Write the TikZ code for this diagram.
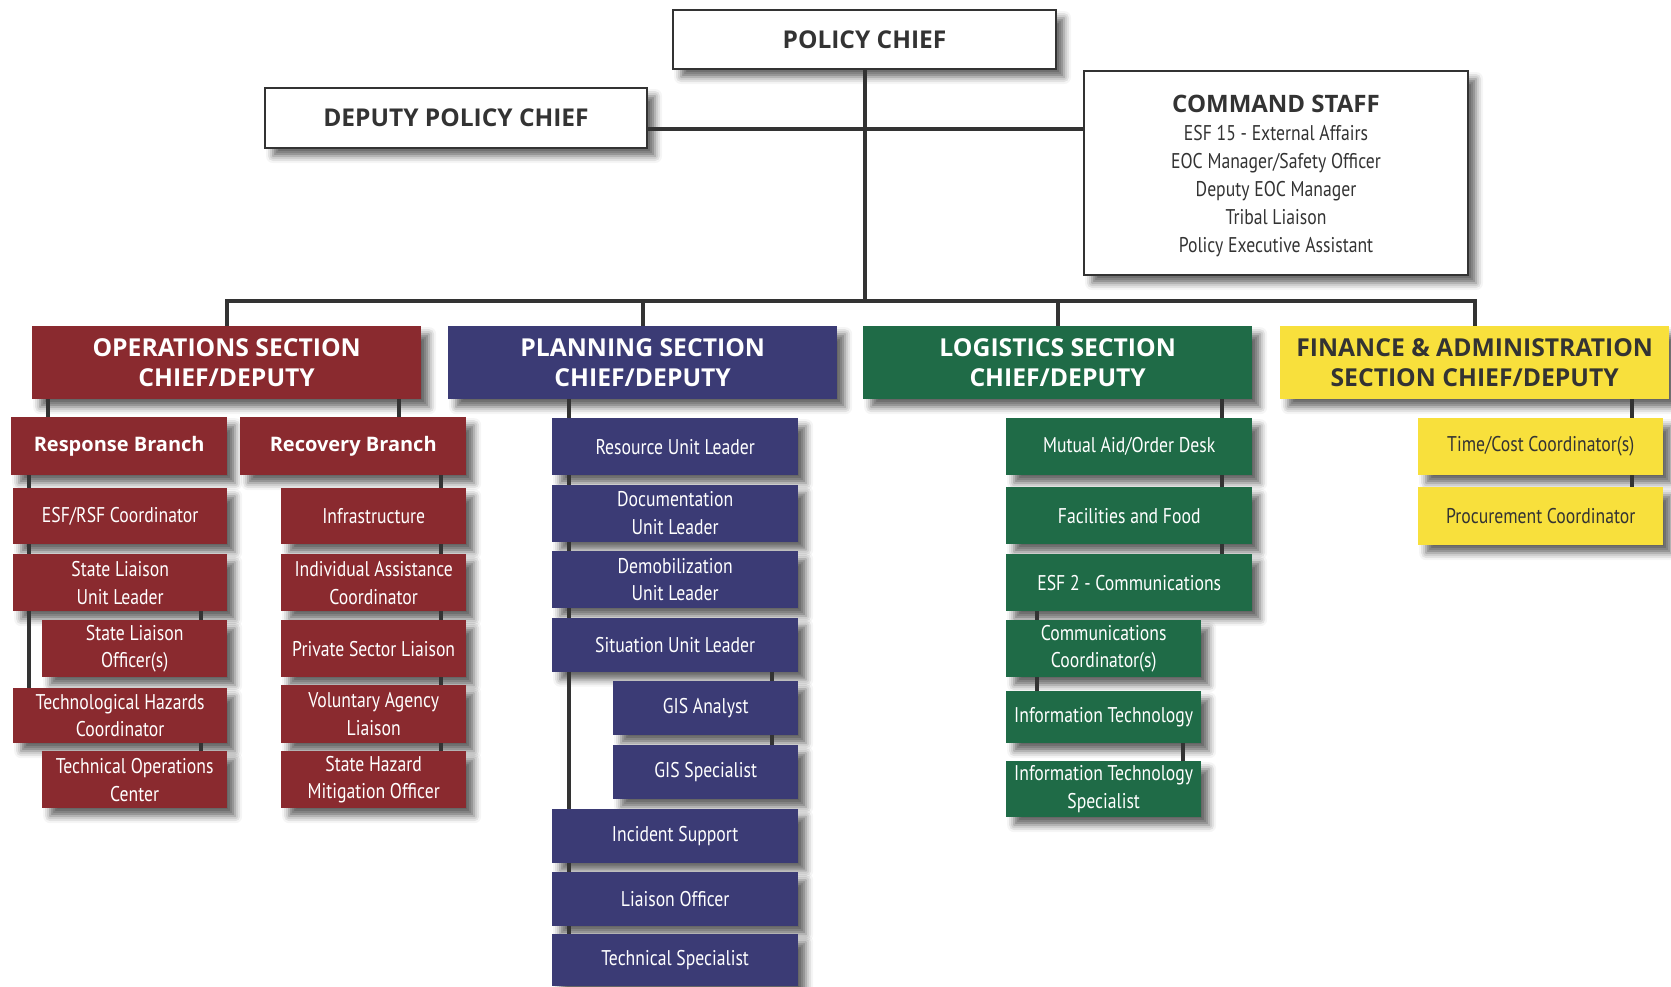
\documentclass[tikz,border=0pt]{standalone}
\usepackage{fontspec}
\setmainfont{PT Sans}
\newfontfamily\condf[FakeStretch=0.83]{PT Sans}
\newfontfamily\headf{Open Sans}
\usetikzlibrary{shadows.blur}
\definecolor{opsred}{HTML}{8A2A2F}
\definecolor{plannavy}{HTML}{3B3B75}
\definecolor{loggreen}{HTML}{1F6B47}
\definecolor{finyellow}{HTML}{F8E03C}
\definecolor{ink}{HTML}{333333}
\tikzset{
  base/.style={rectangle, anchor=north west, inner sep=0pt, align=center,
    blur shadow={shadow xshift=8pt, shadow yshift=-8pt, shadow blur radius=7pt, shadow opacity=60}},
  topbox/.style={base, fill=white, draw=ink, line width=2pt, text=ink,
    font=\headf\bfseries\fontsize{24.5}{30}\selectfont},
  csbox/.style={base, fill=white, draw=ink, line width=2pt, text=ink,
    font=\condf\fontsize{21.3}{28}\selectfont},
  secbox/.style={base, text=white, font=\headf\bfseries\fontsize{24.7}{30.5}\selectfont},
  branchbox/.style={base, text=white, font=\headf\bfseries\fontsize{20}{26}\selectfont},
  unitbox/.style={base, text=white, font=\condf\fontsize{21.3}{27.7}\selectfont},
  ops/.style={fill=opsred},
  plan/.style={fill=plannavy},
  logi/.style={fill=loggreen},
  fin/.style={fill=finyellow, text=ink},
  conn/.style={draw=ink, line width=4pt},
}
\begin{document}
\begin{tikzpicture}[x=1pt,y=-1pt]
\useasboundingbox (0,0) rectangle (1671,986);
% top level
\node[topbox, minimum width=383, minimum height=59] (pc) at (672,9) {POLICY CHIEF};
\node[topbox, minimum width=382, minimum height=60] (dpc) at (264,87) {DEPUTY POLICY CHIEF};
\node[csbox, minimum width=384, minimum height=204] (cs) at (1083,70)
  {\rule{0pt}{24pt}{\headf\bfseries\fontsize{24}{30}\selectfont COMMAND STAFF}\\
   ESF 15 - External Affairs\\ EOC Manager/Safety Officer\\ Deputy EOC Manager\\
   Tribal Liaison\\ Policy Executive Assistant};
% sections
\node[secbox, ops, minimum width=389, minimum height=73] (opsec) at (32,326) {OPERATIONS SECTION\\CHIEF/DEPUTY};
\node[secbox, plan, minimum width=389, minimum height=73] (plsec) at (448,326) {PLANNING SECTION\\CHIEF/DEPUTY};
\node[secbox, logi, minimum width=389, minimum height=73] (lgsec) at (863,326) {LOGISTICS SECTION\\CHIEF/DEPUTY};
\node[secbox, fin, minimum width=389, minimum height=73] (fnsec) at (1280,326) {FINANCE \& ADMINISTRATION\\SECTION CHIEF/DEPUTY};
% operations
\node[branchbox, ops, minimum width=216, minimum height=58] (resp) at (11,417) {Response Branch};
\node[branchbox, ops, minimum width=226, minimum height=58] (rec) at (240,417) {Recovery Branch};
\node[unitbox, ops, minimum width=214, minimum height=56] (esf) at (13,488) {ESF/RSF Coordinator};
\node[unitbox, ops, minimum width=214, minimum height=57] (slul) at (13,554) {State Liaison\\Unit Leader};
\node[unitbox, ops, minimum width=185, minimum height=57] (slo) at (42,620) {State Liaison\\Officer(s)};
\node[unitbox, ops, minimum width=214, minimum height=55] (thc) at (13,688) {Technological Hazards\\Coordinator};
\node[unitbox, ops, minimum width=185, minimum height=57] (toc) at (42,751) {Technical Operations\\Center};
\node[unitbox, ops, minimum width=185, minimum height=56] (infra) at (281,488) {Infrastructure};
\node[unitbox, ops, minimum width=185, minimum height=57] (iac) at (281,554) {Individual Assistance\\Coordinator};
\node[unitbox, ops, minimum width=185, minimum height=57] (psl) at (281,620) {Private Sector Liaison};
\node[unitbox, ops, minimum width=185, minimum height=58] (val) at (281,685) {Voluntary Agency\\Liaison};
\node[unitbox, ops, minimum width=185, minimum height=57] (shmo) at (281,751) {State Hazard\\Mitigation Officer};
% planning
\node[unitbox, plan, minimum width=246, minimum height=57] (rul) at (552,418) {Resource Unit Leader};
\node[unitbox, plan, minimum width=246, minimum height=57] (dul) at (552,484.5) {Documentation\\Unit Leader};
\node[unitbox, plan, minimum width=246, minimum height=57] (dmul) at (552,551) {Demobilization\\Unit Leader};
\node[unitbox, plan, minimum width=246, minimum height=54] (sul) at (552,617.5) {Situation Unit Leader};
\node[unitbox, plan, minimum width=185, minimum height=54] (gisa) at (613,681) {GIS Analyst};
\node[unitbox, plan, minimum width=185, minimum height=54] (giss) at (613,745) {GIS Specialist};
\node[unitbox, plan, minimum width=246, minimum height=54] (inc) at (552,808.5) {Incident Support};
\node[unitbox, plan, minimum width=246, minimum height=54] (lo) at (552,872) {Liaison Officer};
\node[unitbox, plan, minimum width=246, minimum height=52] (ts) at (552,934) {Technical Specialist};
% logistics
\node[unitbox, logi, minimum width=246, minimum height=57] (mad) at (1006,418) {Mutual Aid/Order Desk};
\node[unitbox, logi, minimum width=246, minimum height=57] (ff) at (1006,487) {Facilities and Food};
\node[unitbox, logi, minimum width=246, minimum height=57] (esf2) at (1006,554) {ESF 2 - Communications};
\node[unitbox, logi, minimum width=195, minimum height=57] (cc) at (1006,620) {Communications\\Coordinator(s)};
\node[unitbox, logi, minimum width=195, minimum height=52] (it) at (1006,691) {Information Technology};
\node[unitbox, logi, minimum width=195, minimum height=56] (its) at (1006,761) {Information Technology\\Specialist};
% finance
\node[unitbox, fin, minimum width=245, minimum height=57] (tc) at (1418,418) {Time/Cost Coordinator(s)};
\node[unitbox, fin, minimum width=245, minimum height=58] (pr) at (1418,487) {Procurement Coordinator};
% helper coordinates
\coordinate (bus) at (0,301);
\coordinate (dl) at (0,129);
\coordinate (xa) at (48,0);
\coordinate (xb) at (399,0);
\coordinate (xc) at (29,0);
\coordinate (xd) at (201,0);
\coordinate (xe) at (441,0);
\coordinate (xf) at (569,0);
\coordinate (xg) at (772,0);
\coordinate (xh) at (1222,0);
\coordinate (xi) at (1037,0);
\coordinate (xj) at (1183,0);
\coordinate (xk) at (1632,0);
% top connectors
\draw[conn] (pc.south) -- (pc.south |- bus);
\draw[conn, line cap=rect] (opsec.north |- bus) -- (fnsec.north |- bus);
\draw[conn] (opsec.north |- bus) -- (opsec.north);
\draw[conn] (plsec.north |- bus) -- (plsec.north);
\draw[conn] (lgsec.north |- bus) -- (lgsec.north);
\draw[conn] (fnsec.north |- bus) -- (fnsec.north);
\draw[conn] (dpc.east |- dl) -- (cs.west |- dl);
% operations connectors
\draw[conn] (opsec.south -| xa) -- (resp.north -| xa);
\draw[conn] (opsec.south -| xb) -- (rec.north -| xb);
\draw[conn] (resp.south -| xc) -- (esf.north -| xc);
\draw[conn] (esf.south -| xc) -- (slul.north -| xc);
\draw[conn] (slul.south -| xc) -- (thc.north -| xc);
\draw[conn] (slul.south -| xd) -- (slo.north -| xd);
\draw[conn] (thc.south -| xd) -- (toc.north -| xd);
\draw[conn] (rec.south -| xe) -- (infra.north -| xe);
\draw[conn] (infra.south -| xe) -- (iac.north -| xe);
\draw[conn] (iac.south -| xe) -- (psl.north -| xe);
\draw[conn] (psl.south -| xe) -- (val.north -| xe);
\draw[conn] (val.south -| xe) -- (shmo.north -| xe);
% planning connectors
\draw[conn] (plsec.south -| xf) -- (rul.north -| xf);
\draw[conn] (rul.south -| xf) -- (dul.north -| xf);
\draw[conn] (dul.south -| xf) -- (dmul.north -| xf);
\draw[conn] (dmul.south -| xf) -- (sul.north -| xf);
\draw[conn] (sul.south -| xf) -- (inc.north -| xf);
\draw[conn] (inc.south -| xf) -- (lo.north -| xf);
\draw[conn] (lo.south -| xf) -- (ts.north -| xf);
\draw[conn] (sul.south -| xg) -- (gisa.north -| xg);
\draw[conn] (gisa.south -| xg) -- (giss.north -| xg);
% logistics connectors
\draw[conn] (lgsec.south -| xh) -- (mad.north -| xh);
\draw[conn] (mad.south -| xh) -- (ff.north -| xh);
\draw[conn] (ff.south -| xh) -- (esf2.north -| xh);
\draw[conn] (esf2.south -| xi) -- (cc.north -| xi);
\draw[conn] (cc.south -| xi) -- (it.north -| xi);
\draw[conn] (it.south -| xj) -- (its.north -| xj);
% finance connectors
\draw[conn] (fnsec.south -| xk) -- (tc.north -| xk);
\draw[conn] (tc.south -| xk) -- (pr.north -| xk);
\end{tikzpicture}
\end{document}
